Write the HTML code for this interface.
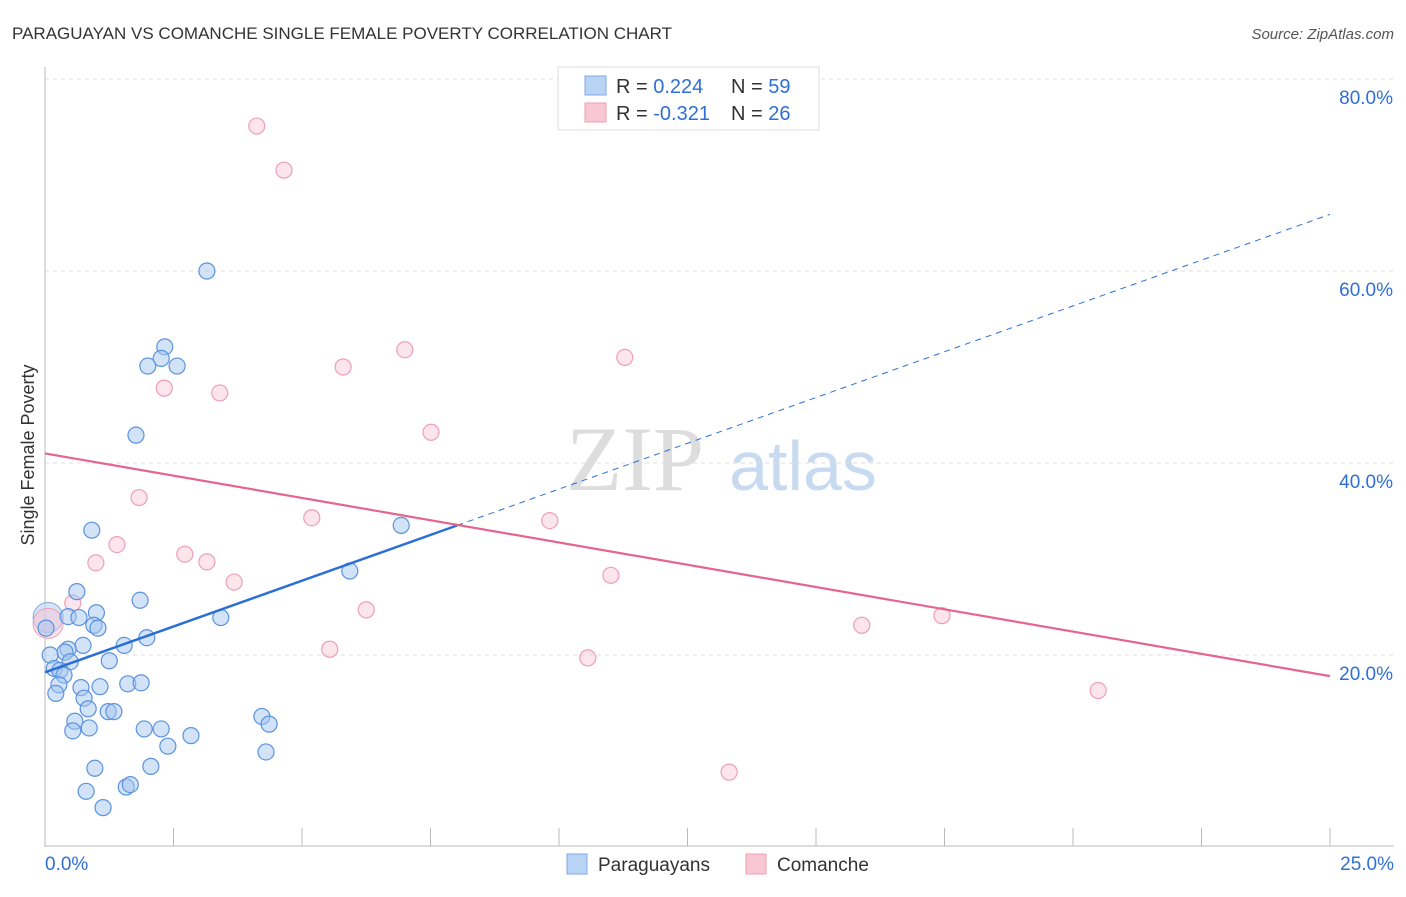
<!DOCTYPE html>
<html><head><meta charset="utf-8"><style>
body{margin:0;background:#fff;font-family:"Liberation Sans",sans-serif}
svg text{font-family:"Liberation Sans",sans-serif}
</style></head><body>
<svg id="c" width="1406" height="892">
<text x="12" y="39" font-size="17" fill="#333">PARAGUAYAN VS COMANCHE SINGLE FEMALE POVERTY CORRELATION CHART</text>
<text x="1394" y="39" font-size="15" fill="#555" text-anchor="end" font-style="italic">Source: ZipAtlas.com</text>
<g><text x="635" y="490" font-size="92" fill="#ddd" text-anchor="middle" font-family="Liberation Serif" style="font-family:'Liberation Serif'">ZIP</text><text x="803" y="490" font-size="70" fill="#c8daf0" text-anchor="middle">atlas</text></g>
<g id="grid"></g><g id="axes"></g><g id="pts"></g><g id="lines"></g>
<text transform="translate(34,455) rotate(-90)" font-size="18" fill="#333" text-anchor="middle">Single Female Poverty</text>
<g>
<rect x="558" y="67" width="261" height="63" fill="#fff" stroke="#ddd"/>
<rect x="585" y="76" width="21" height="19" fill="#b9d3f5" stroke="#7ea9e6"/>
<rect x="585" y="103" width="21" height="19" fill="#f9c6d4" stroke="#ee9fb5"/>
<text x="616" y="93" font-size="20" fill="#333">R = <tspan fill="#2f6fd6"> 0.224</tspan><tspan x="731">N = </tspan><tspan fill="#2f6fd6">59</tspan></text>
<text x="616" y="120" font-size="20" fill="#333">R = <tspan fill="#2f6fd6">-0.321</tspan><tspan x="731">N = </tspan><tspan fill="#2f6fd6">26</tspan></text>
</g>
<g>
<rect x="567" y="854" width="20" height="20" fill="#b9d3f5" stroke="#7ea9e6"/>
<text x="598" y="871" font-size="19" fill="#333">Paraguayans</text>
<rect x="746" y="854" width="20" height="20" fill="#f9c6d4" stroke="#ee9fb5"/>
<text x="777" y="871" font-size="19" fill="#333">Comanche</text>
</g>
</svg>
<script>
const yTicks=[20,40,60,80];
const xTickLabels=["0.0%","25.0%"];
const blueX=[3.15,2.33,2.26,2.00,2.57,1.77,0.91,6.93,5.93,0.62,1.85,1.00,0.45,0.66,3.42,0.95,1.03,0.02,1.98,1.54,0.74,0.45,0.39,0.10,1.25,0.49,0.18,0.29,0.37,0.27,0.70,1.07,1.61,1.87,0.21,0.76,0.84,1.23,1.34,0.58,0.54,0.86,1.93,2.26,4.22,4.36,2.84,2.39,4.30,2.06,0.97,0.80,1.58,1.66,1.13];
const blueY=[60.0,52.1,50.9,50.1,50.1,42.9,33.0,33.5,28.75,26.6,25.7,24.4,24.0,23.9,23.9,23.1,22.8,22.8,21.8,21.0,21.0,20.6,20.3,20.0,19.4,19.3,18.6,18.4,17.9,16.9,16.6,16.7,17.0,17.1,16.0,15.5,14.4,14.1,14.1,13.1,12.1,12.4,12.3,12.3,13.6,12.8,11.6,10.5,9.9,8.4,8.2,5.8,6.25,6.5,4.1];
const pinkX=[4.12,4.65,7.00,11.28,5.80,2.32,3.40,7.51,1.83,5.19,9.82,1.40,2.72,0.99,3.15,3.68,11.01,6.25,0.54,17.45,15.89,5.54,10.56,20.49,13.31];
const pinkY=[75.1,70.5,51.8,51.0,50.0,47.8,47.3,43.2,36.4,34.3,34.0,31.5,30.5,29.6,29.7,27.6,28.3,24.7,25.4,24.1,23.1,20.6,19.7,16.3,7.8];
const bigX=[0.06,0.06];const bigY=[23.9,23.3];
const blueTrend=[18.2,65.9];const blueSolidEnd=8.02;
const pinkTrend=[41.0,17.8];
const X=v=>45+v/25*1285, Y=v=>847-v*9.6;
const NS="http://www.w3.org/2000/svg";
function mk(t,p,a){const e=document.createElementNS(NS,t);for(const k in a)e.setAttribute(k,a[k]);p.appendChild(e);return e;}
const grid=document.getElementById('grid'),axes=document.getElementById('axes');
yTicks.forEach(t=>{
 const l=mk('line',grid,{x1:45,x2:1394,y1:Y(t),y2:Y(t),stroke:'#ddd','stroke-dasharray':'4,4'});
 
 
 const tx=mk('text',grid,{x:1393,y:Y(t)+25,'font-size':19,fill:'#2f6fd6','text-anchor':'end'});
 tx.textContent=t.toFixed(1)+'%';
 
 
});
mk('line',axes,{x1:45,x2:45,y1:67,y2:847,stroke:'#bbb'});
mk('line',axes,{x1:45,x2:1394,y1:846,y2:846,stroke:'#bbb'});
for(let i=0;i<=10;i++){const x=X(i*2.5);const l=mk('line',axes,{x1:x,x2:x,y1:828,y2:846,stroke:'#bbb'});
 
 }
[[0,'start',45],[25,'end',1394]].forEach((d,i)=>{const t=mk('text',axes,{x:d[2],y:870,'font-size':19,fill:'#2f6fd6','text-anchor':d[1]});t.textContent=xTickLabels[i];
 
 });
const pts=document.getElementById('pts');
bigX.forEach((v,i)=>{const c=mk('circle',pts,{cx:X(v),cy:Y(bigY[i]),r:15,fill:i?'rgba(249,198,212,0.5)':'rgba(185,211,245,0.6)',stroke:i?'#ee9fb5':'#7ea9e6'});
 
 });
pinkX.forEach((v,i)=>{const c=mk('circle',pts,{cx:X(v),cy:Y(pinkY[i]),r:8,fill:'rgba(249,198,212,0.45)',stroke:'#ee9fb5','stroke-width':1.2});
 
 });
blueX.forEach((v,i)=>{const c=mk('circle',pts,{cx:X(v),cy:Y(blueY[i]),r:8,fill:'rgba(165,198,240,0.5)',stroke:'#5b93e0','stroke-width':1.2});
 
 });
const lines=document.getElementById('lines');
const by=x=>blueTrend[0]+(blueTrend[1]-blueTrend[0])*x/25;
let l=mk('line',lines,{x1:X(0),y1:Y(by(0)),x2:X(blueSolidEnd),y2:Y(by(blueSolidEnd)),stroke:'#2a6fd6','stroke-width':2.5});


l=mk('line',lines,{x1:X(blueSolidEnd),y1:Y(by(blueSolidEnd)),x2:X(25),y2:Y(by(25)),stroke:'#2a6fd6','stroke-width':1,'stroke-dasharray':'6,5'});


l=mk('line',lines,{x1:X(0),y1:Y(pinkTrend[0]),x2:X(25),y2:Y(pinkTrend[1]),stroke:'#e4668f','stroke-width':2.2});


</script>
</body></html>
